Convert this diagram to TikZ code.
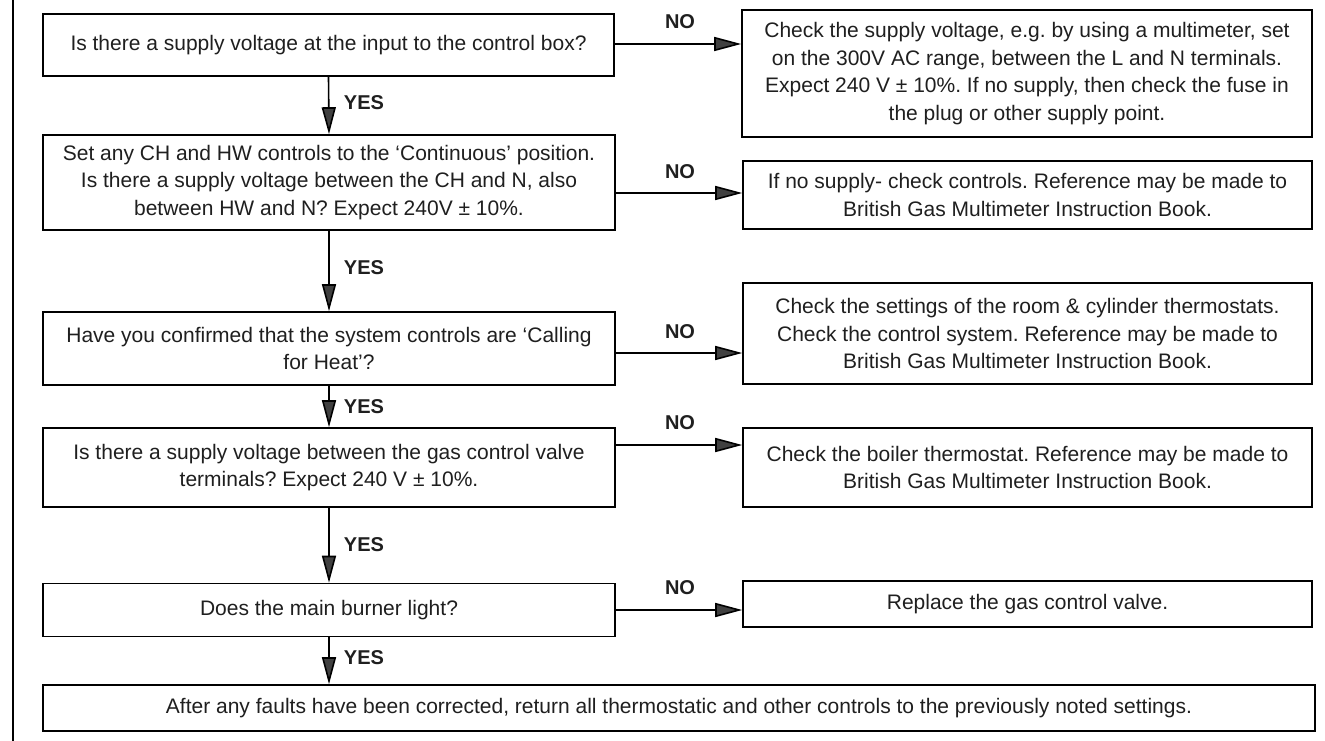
\documentclass[tikz,border=0pt]{standalone}
\usepackage{fontspec}
\setmainfont{Liberation Sans}
\usetikzlibrary{arrows.meta}
\frenchspacing
\begin{document}
\begin{tikzpicture}[x=1pt,y=-1pt,
  box/.style={draw=black, line width=1.6pt, inner sep=0pt, align=center,
    font=\fontsize{21}{27.5}\selectfont, text=black!88},
  lbl/.style={font=\fontsize{20}{24}\selectfont\bfseries, text=black!88},
  arr/.style={line width=1.6pt, -{Triangle[length=27pt,width=14pt,fill=black!75]}}]
\fill[white] (0,0) rectangle (1325,741);
\useasboundingbox (0,0) rectangle (1325,741);
% page edge line
\draw[line width=1.6pt] (13,0) -- (13,741);
% left column
\node[box, minimum width=571pt, minimum height=62pt] (b1) at (328.5,45)
  {Is there a supply voltage at the input to the control box?};
\node[box, minimum width=572pt, minimum height=95pt] (b2) at (329,182.5)
  {Set any CH and HW controls to the ‘Continuous’ position.\\
   Is there a supply voltage between the CH and N, also\\
   between HW and N? Expect 240V ± 10\%.};
\node[box, minimum width=572pt, minimum height=73pt] (b3) at (329,348.5)
  {Have you confirmed that the system controls are ‘Calling\\ for Heat’?};
\node[box, minimum width=572pt, minimum height=79pt] (b4) at (329,467.5)
  {Is there a supply voltage between the gas control valve\\
   terminals? Expect 240 V ± 10\%.};
\node[box, minimum width=572pt, minimum height=53pt] (b5) at (329,610)
  {Does the main burner light?};
\node[box, minimum width=1272pt, minimum height=46pt] (fin) at (679,708)
  {After any faults have been corrected, return all thermostatic and other controls to the previously noted settings.};
% right column
\node[box, minimum width=570pt, minimum height=127pt] (r1) at (1027,73.5)
  {Check the supply voltage, e.g. by using a multimeter, set\\
   on the 300V AC range, between the L and N terminals.\\
   Expect 240 V ± 10\%. If no supply, then check the fuse in\\
   the plug or other supply point.};
\node[box, minimum width=569pt, minimum height=68pt] (r2) at (1027.5,195)
  {If no supply- check controls. Reference may be made to\\
   British Gas Multimeter Instruction Book.};
\node[box, minimum width=569pt, minimum height=101pt] (r3) at (1027.5,333.5)
  {Check the settings of the room \& cylinder thermostats.\\
   Check the control system. Reference may be made to\\
   British Gas Multimeter Instruction Book.};
\node[box, minimum width=569pt, minimum height=79pt] (r4) at (1027.5,467.5)
  {Check the boiler thermostat. Reference may be made to\\
   British Gas Multimeter Instruction Book.};
\node[box, minimum width=569pt, minimum height=46pt] (r5) at (1027.5,604)
  {Replace the gas control valve.};
% YES arrows
\draw[arr] (b1.south) -- (b2.north);
\draw[arr] (b2.south) -- (b3.north);
\draw[arr] (b3.south) -- (b4.north);
\draw[arr] (b4.south) -- (b5.north);
\draw[arr] (b5.south) -- (b5.south |- fin.north);
\node[lbl] (y1) at (364,103) {YES};
\node[lbl] (y2) at (364,268) {YES};
\node[lbl] (y3) at (364,407) {YES};
\node[lbl] (y4) at (364,545) {YES};
\node[lbl] (y5) at (364,658) {YES};
% NO arrows
\coordinate (h1) at (0,44);
\coordinate (h2) at (0,193);
\coordinate (h3) at (0,353);
\coordinate (h4) at (0,445);
\coordinate (h5) at (0,610);
\draw[arr] (b1.east |- h1) -- (r1.west |- h1);
\draw[arr] (b2.east |- h2) -- (r2.west |- h2);
\draw[arr] (b3.east |- h3) -- (r3.west |- h3);
\draw[arr] (b4.east |- h4) -- (r4.west |- h4);
\draw[arr] (b5.east |- h5) -- (r5.west |- h5);
\node[lbl] (n1) at (680,22) {NO};
\node[lbl] (n2) at (680,172) {NO};
\node[lbl] (n3) at (680,332) {NO};
\node[lbl] (n4) at (680,423) {NO};
\node[lbl] (n5) at (680,588) {NO};
\end{tikzpicture}
\end{document}
